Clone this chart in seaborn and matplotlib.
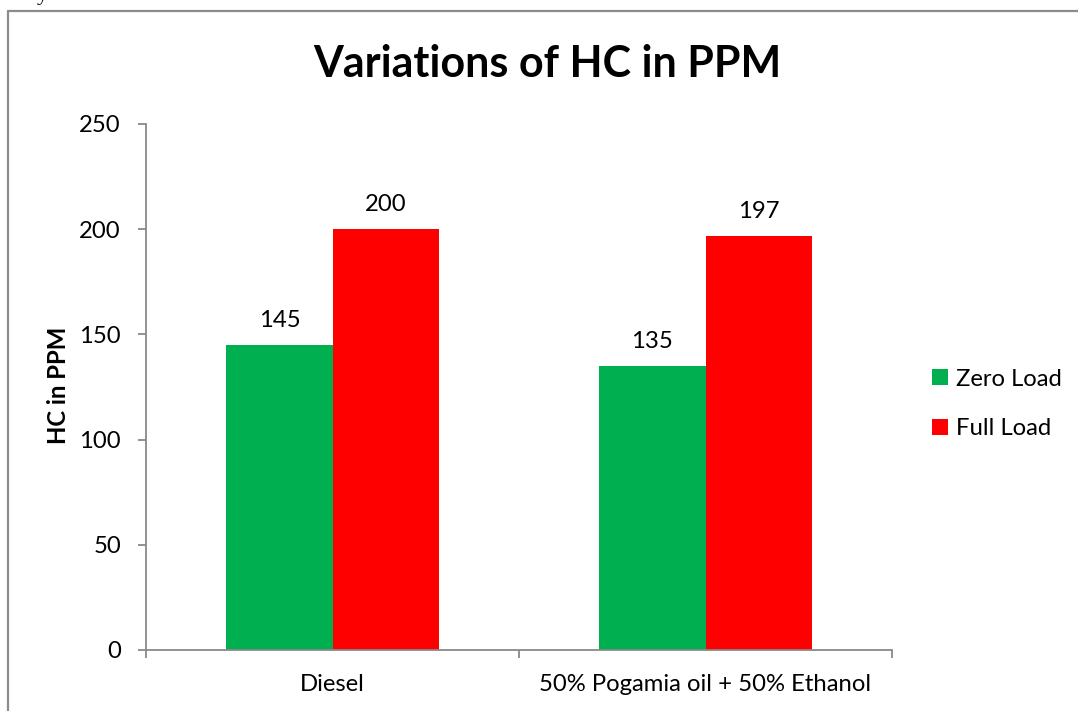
import matplotlib
matplotlib.use('Agg')
import matplotlib.pyplot as plt
import pandas as pd
import seaborn as sns
from matplotlib.lines import Line2D

# DATA
fuels = ['Diesel', '50% Pogamia oil + 50% Ethanol']
loads = ['Zero Load', 'Full Load']
zero_load = [145, 135]
full_load = [200, 197]
yticks = [0, 50, 100, 150, 200, 250]
colors = ['#00B050', '#FF0000']

df = pd.DataFrame({
    'Fuel': fuels + fuels,
    'Load': [loads[0]] * len(fuels) + [loads[1]] * len(fuels),
    'HC': zero_load + full_load,
})

sns.set_style('white')
plt.rcParams['font.family'] = ['Lato', 'DejaVu Sans']
plt.rcParams['text.color'] = 'black'

W, H = 1078, 711
FS = 17.2
fig = plt.figure(figsize=(W / 100, H / 100), dpi=100)
ax = fig.add_axes([146 / W, 61 / H, 746 / W, 526 / H])

sns.barplot(data=df, x='Fuel', y='HC', hue='Load', palette=colors,
            width=0.57, gap=0, saturation=1, linewidth=0, ax=ax)

# VALUE LABELS ABOVE EACH BAR
for container in ax.containers:
    ax.bar_label(container, padding=10, fontsize=FS, color='black')

ax.set_xlim(-0.5, 1.5)
ax.set_ylim(0, 250)
ax.set_yticks(yticks)
ax.set_xticks([-0.5, 0.5, 1.5])
ax.set_xticklabels([])
ax.set_xticks([0, 1], minor=True)
ax.set_xticklabels(fuels, minor=True)
ax.set_xlabel('')
ax.set_ylabel('')

sns.despine(ax=ax)
for side in ['left', 'bottom']:
    ax.spines[side].set_color('#898989')
    ax.spines[side].set_linewidth(1.3)
ax.tick_params(axis='both', which='major', direction='out', length=6, width=1.3,
               color='#898989', labelcolor='black', labelsize=FS,
               bottom=True, left=True, pad=12)
ax.tick_params(axis='x', which='minor', length=0, labelsize=FS, labelcolor='black', pad=17)

# LEGEND ON THE RIGHT
handles, labels = ax.get_legend_handles_labels()
ax.legend(handles, labels, loc='center left', bbox_to_anchor=(932 / W, 1 - 404 / H),
          bbox_transform=fig.transFigure, frameon=False, fontsize=FS, borderpad=0,
          borderaxespad=0, handlelength=0.65, handleheight=0.65, handletextpad=0.35,
          labelspacing=1.2, labelcolor='black')

# TITLE AND Y LABEL
fig.text(547 / W, 1 - 77 / H, 'Variations of HC in PPM', ha='center', va='baseline',
         fontsize=31, fontweight='bold', color='black')
fig.text(58 / W, 1 - 385 / H, 'HC in PPM', ha='center', va='center', rotation=90,
         fontsize=FS, fontweight='bold', color='black')

# FRAME AROUND THE CHART (LEFT AND TOP EDGES ONLY VISIBLE)
fig.add_artist(Line2D([8 / W, 8 / W], [0, 1 - 11 / H], color='#8c8c8c', lw=1.6))
fig.add_artist(Line2D([8 / W, 1], [1 - 11 / H, 1 - 11 / H], color='#8c8c8c', lw=1.6))
fig.text(37 / W, 1.0, 'y', ha='left', va='baseline', fontsize=16, family='Liberation Serif')

plt.savefig('out.png', dpi=100)
